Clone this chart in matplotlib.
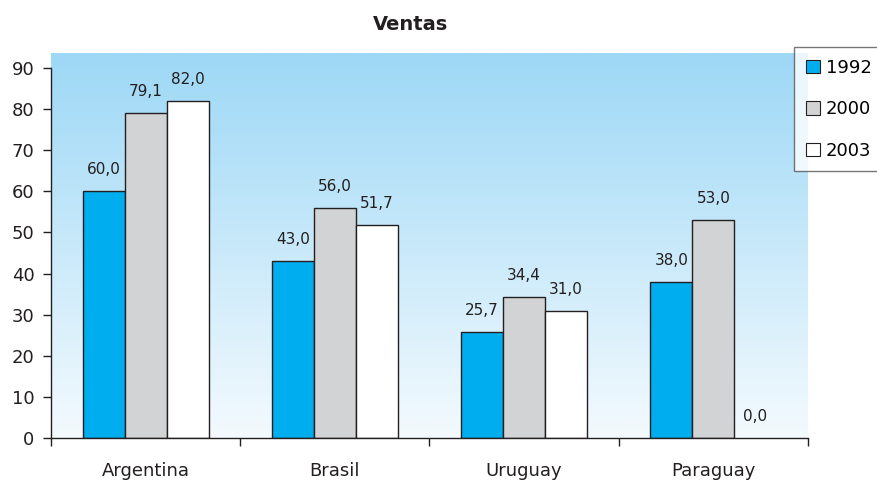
import numpy as np
import matplotlib
matplotlib.use("Agg")
import matplotlib.pyplot as plt
from matplotlib.colors import LinearSegmentedColormap
from matplotlib.patches import Patch

paises = ["Argentina", "Brasil", "Uruguay", "Paraguay"]
anios = ["1992", "2000", "2003"]
v1992 = [60.0, 43.0, 25.7, 38.0]
v2000 = [79.1, 56.0, 34.4, 53.0]
v2003 = [82.0, 51.7, 31.0, 0.0]
colores = ["#00aeef", "#d1d3d4", "#ffffff"]

plt.rcParams["font.family"] = ["DejaVu Sans"]

fig = plt.figure(figsize=(8.78, 4.84), dpi=100)
ax = fig.add_axes([51 / 878, 1 - 438 / 484, 757 / 878, 370 / 484])

# fondo degradado celeste -> blanco, sobresale un poco por encima del 90
grad = LinearSegmentedColormap.from_list("g", ["#f4fafe", "#9dd8f6"])
ax.imshow(np.linspace(0, 1, 256).reshape(-1, 1), cmap=grad, origin="lower",
          aspect="auto", extent=(-0.5, 3.5, 0, 93.6), clip_on=False, zorder=0)

x = np.arange(len(paises))
w = 0.222
series = [v1992, v2000, v2003]
for i, vals in enumerate(series):
    pos = x + (i - 1) * w
    bars = ax.bar(pos, vals, w, color=colores[i], edgecolor="#231f20", linewidth=1, zorder=2)
    for b, px, v in zip(bars, pos, vals):
        if v == 0:
            b.set_linewidth(0)
        ax.text(px, v + 3.4, f"{v:.1f}".replace(".", ","), ha="center", va="bottom",
                fontsize=11, color="#231f20", zorder=3)

ax.set_xlim(-0.5, 3.5)
ax.set_ylim(0, 90)
ax.set_yticks(range(0, 91, 10))
ax.set_xticks(x)
ax.set_xticklabels(paises, fontsize=13)
ax.set_xticks(np.arange(-0.5, 4, 1), minor=True)
ax.tick_params(axis="x", which="major", length=0, pad=17)
ax.tick_params(axis="x", which="minor", length=6, width=1, color="#231f20")
ax.tick_params(axis="y", length=6, width=1, color="#231f20", labelsize=13, pad=6)
for lbl in ax.get_yticklabels() + ax.get_xticklabels():
    lbl.set_color("#231f20")

ax.spines["top"].set_visible(False)
ax.spines["right"].set_visible(False)
for s in ("left", "bottom"):
    ax.spines[s].set_color("#231f20")
    ax.spines[s].set_linewidth(1)

fig.text(411 / 878, 1 - 25 / 484, "Ventas", ha="center", va="center",
         fontsize=14, fontweight="bold", color="#231f20")

handles = [Patch(facecolor=c, edgecolor="#231f20", linewidth=0.8) for c in colores]
leg = fig.legend(handles, anios, loc="upper left",
                 bbox_to_anchor=(794 / 878, 1 - 47 / 484), fontsize=13,
                 frameon=True, fancybox=False, handlelength=0.8, handleheight=0.8,
                 handletextpad=0.3, labelspacing=1.3, borderpad=0.65,
                 borderaxespad=0)
leg.get_frame().set_edgecolor("#555555")
leg.get_frame().set_linewidth(1)

fig.savefig("out.png", dpi=100)
